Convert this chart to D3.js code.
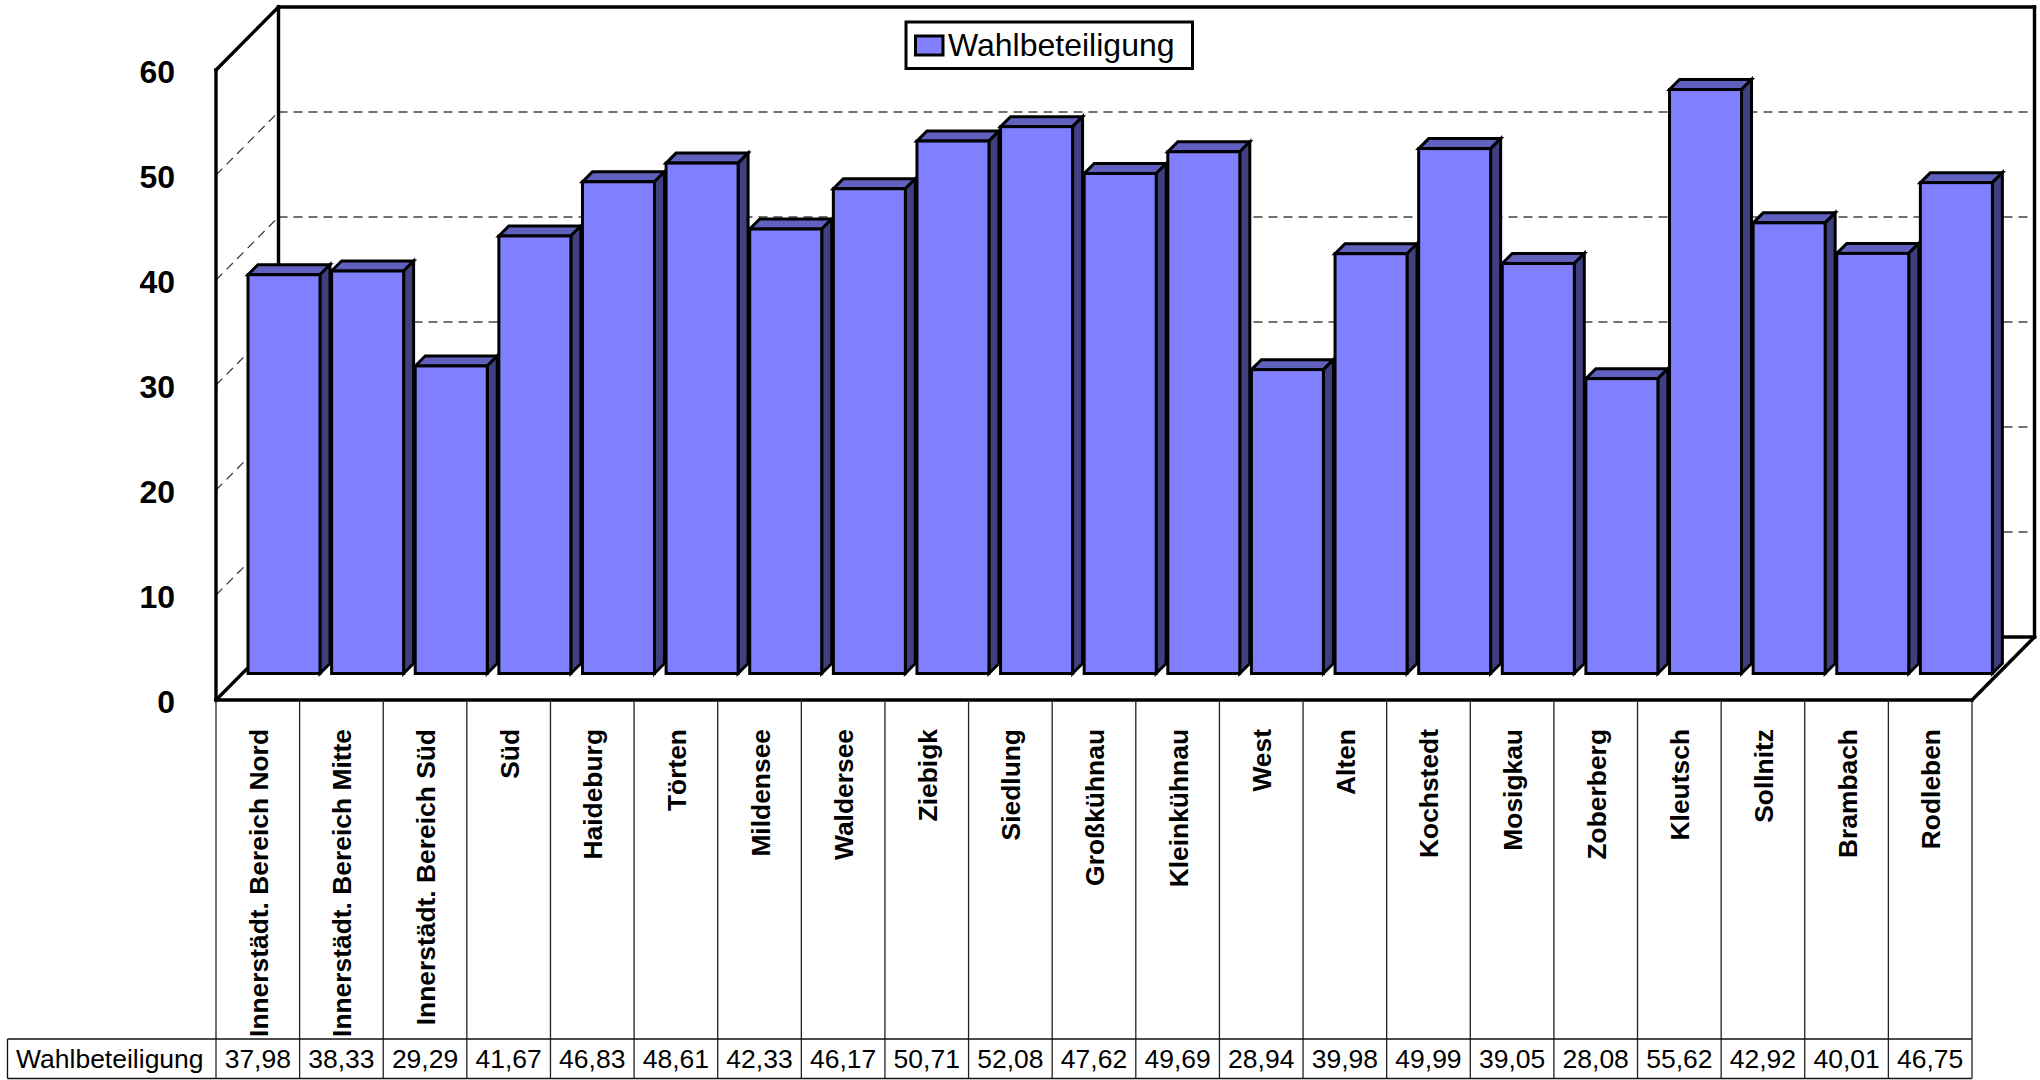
<!DOCTYPE html>
<html>
<head>
<meta charset="utf-8">
<script src="https://cdn.jsdelivr.net/npm/d3@7"></script>
<style>
  html, body { margin: 0; background: #fff; }
  svg { display: block; font-family: "Liberation Sans", Arial, sans-serif; }
</style>
</head>
<body>
<script>
// Chart data
const seriesName = 'Wahlbeteiligung';
const categories = ['Innerstädt. Bereich Nord', 'Innerstädt. Bereich Mitte', 'Innerstädt. Bereich Süd', 'Süd', 'Haideburg', 'Törten', 'Mildensee', 'Waldersee', 'Ziebigk', 'Siedlung', 'Großkühnau', 'Kleinkühnau', 'West', 'Alten', 'Kochstedt', 'Mosigkau', 'Zoberberg', 'Kleutsch', 'Sollnitz', 'Brambach', 'Rodleben'];
const values = [37.98, 38.33, 29.29, 41.67, 46.83, 48.61, 42.33, 46.17, 50.71, 52.08, 47.62, 49.69, 28.94, 39.98, 49.99, 39.05, 28.08, 55.62, 42.92, 40.01, 46.75];
const yTicks = [0, 10, 20, 30, 40, 50, 60];

const svg = d3.select('body').append('svg')
  .attr('width', 2040)
  .attr('height', 1080);

// Front plane scales, the walls and bars are shifted back from them
const xScale = d3.scaleBand().domain(categories).range([216, 1972]);
const yScale = d3.scaleLinear().domain([0, 60]).range([700, 70]);

const wallShift = { x: 62.5, y: -63 };
const barShift = { x: 32, y: -26.5 };
const barDepth = 10;
const barWidth = 72;

const fmt = d3.formatLocale({ decimal: ',', thousands: '.', grouping: [3], currency: ['', ' €'] }).format('.2f');

const line = (g, x1, y1, x2, y2, color, width) => g.append('line')
  .attr('x1', x1).attr('y1', y1).attr('x2', x2).attr('y2', y2)
  .attr('stroke', color).attr('stroke-width', width);

const xLeft = xScale.range()[0];
const xRight = xScale.range()[1];
const yBase = yScale(0);
const yTop = yScale(60);

// Gridlines on the side wall and the back wall
const grid = svg.append('g');
yTicks.filter(d => d > 0 && d < 60).forEach(d => {
  const y = yScale(d);
  line(grid, xLeft, y, xLeft + wallShift.x, y + wallShift.y, '#333', 1.2).attr('stroke-dasharray', '9 6');
  line(grid, xLeft + wallShift.x, y + wallShift.y, xRight + wallShift.x, y + wallShift.y, '#444', 1.5).attr('stroke-dasharray', '9 6');
});

// Walls and floor outline
const walls = svg.append('g').attr('stroke-linecap', 'square');
line(walls, xLeft + wallShift.x, yTop + wallShift.y, xRight + wallShift.x, yTop + wallShift.y, '#000', 3.4);
line(walls, xRight + wallShift.x, yTop + wallShift.y, xRight + wallShift.x, yBase + wallShift.y, '#000', 3.4);
line(walls, xLeft + wallShift.x, yTop + wallShift.y, xLeft + wallShift.x, yBase + wallShift.y, '#000', 3.4);
line(walls, xLeft + wallShift.x, yBase + wallShift.y, xRight + wallShift.x, yBase + wallShift.y, '#000', 3.4);
line(walls, xLeft, yTop, xLeft + wallShift.x, yTop + wallShift.y, '#000', 3.4);
line(walls, xLeft, yTop, xLeft, yBase, '#000', 3.4);
line(walls, xLeft, yBase, xLeft + wallShift.x, yBase + wallShift.y, '#000', 3.4);
line(walls, xRight, yBase, xRight + wallShift.x, yBase + wallShift.y, '#000', 3.4);
line(walls, xLeft, yBase, xRight, yBase, '#000', 3.4);

// 3D bars: front, top and side faces
const bars = svg.append('g')
  .selectAll('g')
  .data(categories.map((name, i) => ({ name, value: values[i] })))
  .enter()
  .append('g')
  .attr('stroke', '#000')
  .attr('stroke-width', 3)
  .attr('stroke-linejoin', 'miter');

const barX = d => xScale(d.name) + barShift.x;
const barTop = d => yScale(d.value) + barShift.y;
const barBottom = barShift.y + yBase;

bars.append('path')
  .attr('fill', '#6060bf')
  .attr('d', d => {
    const x = barX(d), y = barTop(d);
    return `M${x},${y}l${barDepth},${-barDepth}h${barWidth}l${-barDepth},${barDepth}z`;
  });

bars.append('path')
  .attr('fill', '#404080')
  .attr('d', d => {
    const x = barX(d) + barWidth, y = barTop(d);
    return `M${x},${y}l${barDepth},${-barDepth}V${barBottom - barDepth}l${-barDepth},${barDepth}z`;
  });

bars.append('rect')
  .attr('fill', '#8080ff')
  .attr('x', barX)
  .attr('y', barTop)
  .attr('width', barWidth)
  .attr('height', d => barBottom - barTop(d));

// Value axis labels
const yAxis = d3.axisLeft(yScale).tickValues(yTicks).tickSize(0).tickPadding(41);
svg.append('g')
  .attr('transform', `translate(${xLeft},2)`)
  .call(yAxis)
  .call(g => g.select('.domain').remove())
  .selectAll('text')
  .attr('font-family', '"Liberation Sans", Arial, sans-serif')
  .attr('font-size', 32)
  .attr('font-weight', 'bold')
  .attr('fill', '#000');

// Data table below the chart
const tableTop = 1039;
const tableBottom = 1078.5;
const table = svg.append('g');

categories.concat([null]).forEach((name, i) => {
  const x = name === null ? xRight : xScale(name);
  line(table, x, yBase, x, tableBottom, '#222', 1.3);
});
line(table, 7.5, tableTop, xRight, tableTop, '#111', 1.3);
line(table, 7.5, tableBottom, xRight, tableBottom, '#111', 1.3);
line(table, 7.5, tableTop, 7.5, tableBottom, '#111', 1.3);

table.append('text')
  .attr('x', 16)
  .attr('y', 1068)
  .attr('font-size', 26.5)
  .text(seriesName);

table.selectAll('.cell')
  .data(values)
  .enter()
  .append('text')
  .attr('class', 'cell')
  .attr('x', (d, i) => xScale(categories[i]) + xScale.bandwidth() / 2)
  .attr('y', 1068)
  .attr('text-anchor', 'middle')
  .attr('font-size', 26.5)
  .text(d => fmt(d));

table.selectAll('.cat')
  .data(categories)
  .enter()
  .append('text')
  .attr('class', 'cat')
  .attr('transform', d => `translate(${xScale(d) + xScale.bandwidth() / 2 + 10},729) rotate(-90)`)
  .attr('text-anchor', 'end')
  .attr('font-size', 26.4)
  .attr('font-weight', 'bold')
  .text(d => d);

// Legend
const legend = svg.append('g');
legend.append('rect')
  .attr('x', 906).attr('y', 22).attr('width', 286.5).attr('height', 46.5)
  .attr('fill', '#fff').attr('stroke', '#000').attr('stroke-width', 3);
legend.append('rect')
  .attr('x', 915.5).attr('y', 36).attr('width', 27.5).attr('height', 19)
  .attr('fill', '#8080ff').attr('stroke', '#000').attr('stroke-width', 3);
legend.append('text')
  .attr('x', 948).attr('y', 56)
  .attr('font-size', 32)
  .text(seriesName);
</script>
</body>
</html>
